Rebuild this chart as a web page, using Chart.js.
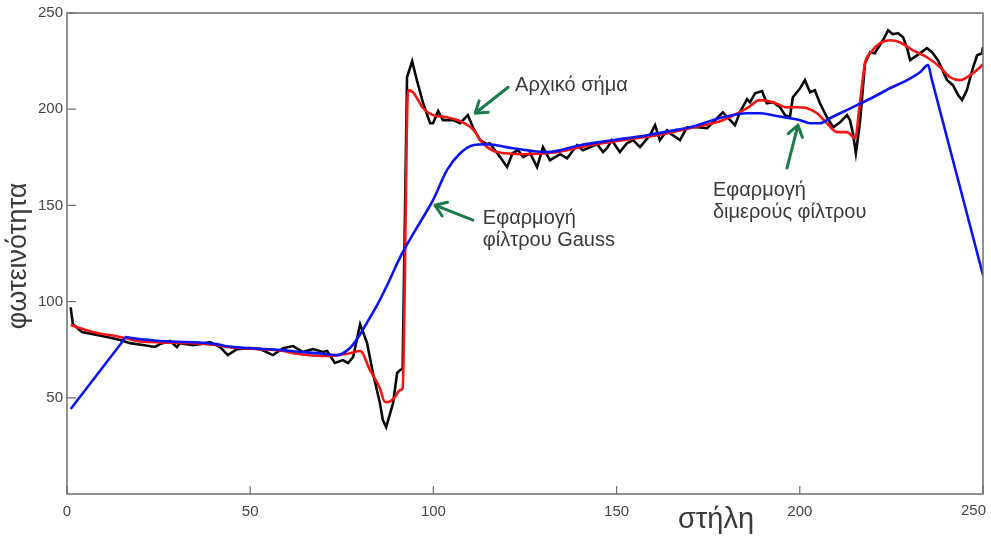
<!DOCTYPE html>
<html>
<head>
<meta charset="utf-8">
<script src="https://cdn.jsdelivr.net/npm/chart.js@4/dist/chart.umd.min.js"></script>
<style>
  html, body { margin: 0; padding: 0; background: #fff; }
  #wrap { width: 991px; height: 537px; position: relative; }
</style>
</head>
<body>
<div id="wrap"><canvas id="c" width="991" height="537"></canvas></div>
<script>
// ---- Data ----
const xTickValues = [0, 50, 100, 150, 200, 250];
const yTickValues = [50, 100, 150, 200, 250];

// Original signal (black)
const blackCols = [1, 1.6, 4.1, 7.1, 10.9, 14.5, 17.2, 20.7, 24, 25.4,
  28.1, 30, 30.8, 34.4, 36.3, 39, 41.8, 43.9, 46.4, 49.9,
  52.7, 56.2, 59, 61.7, 64.4, 67.1, 69.9, 71, 73.1, 75.3,
  76.7, 78.1, 80, 81.9, 83.5, 85.4, 86.2, 87.1, 87.9, 89,
  90.1, 90.9, 91.6, 92.8, 94.2, 95.5, 97.2, 99.1, 99.9, 101.3,
  102.6, 105.3, 107.3, 109.4, 110.8, 112.7, 114.6, 115.4, 116.8, 118.2,
  120.1, 121.6, 123.1, 124.5, 126.4, 128.3, 129.9, 131.8, 134.6, 136.5,
  139.2, 140.8, 141.9, 144.7, 146.3, 147.4, 148.7, 150.9, 152.8, 154.5,
  156.4, 159.1, 160.5, 161.8, 163.8, 164.6, 167.3, 169.2, 171.9, 174.7,
  177.4, 179, 181, 182.3, 183.7, 185.6, 186.4, 187.8, 189.7, 191,
  192.7, 194.6, 196, 197.3, 198.1, 200.1, 201.4, 202.8, 204.1, 205.5,
  207.4, 209.1, 211, 212.9, 213.7, 214.5, 215.3, 216.4, 217.8, 219.2,
  220.5, 221.3, 222.7, 224.1, 225.4, 226.8, 228.2, 229.3, 230.1, 232,
  234.7, 236.1, 237.7, 240.2, 241.8, 243.2, 244.3, 245.6, 247.3, 248.4,
  249.7, 250];
const blackVals = [97, 88.3, 84.2, 83.1, 81.6, 80.0, 78.4, 77.4, 76.4, 77.9,
  79.5, 76.4, 78.4, 77.4, 77.9, 79.0, 76.4, 72.2, 75.3, 75.8,
  75.3, 72.2, 75.8, 76.9, 73.8, 75.3, 73.8, 74.3, 68.1, 69.6,
  68.1, 71.2, 88.3, 78.4, 62.9, 47.3, 38.4, 34.8, 40, 47.3,
  62.9, 64.4, 65, 216.6, 224.9, 215, 203.1, 192.7, 192.7, 199,
  194.3, 194.3, 192.7, 196.9, 190.6, 183.9, 181.8, 182.3, 178.7, 175.1,
  169.9, 177.1, 178.7, 175.1, 177.1, 169.9, 180.3, 173.5, 176.6, 174.5,
  181.3, 178.7, 179.5, 181.8, 177.7, 179.7, 183.9, 177.7, 182.3, 183.9,
  180.3, 186.5, 191.7, 183.9, 189.1, 187.5, 183.9, 190.6, 190.6, 190.1,
  195.3, 198.4, 194.3, 191.7, 198.5, 205.2, 203.6, 208.3, 209.4, 203.1,
  203.6, 201, 196.9, 195.8, 206.2, 210.9, 215.1, 208.8, 209.9, 203.1,
  195.8, 190.6, 193.2, 196.9, 194.3, 187.5, 177.1, 192.7, 223.9, 229.6,
  229.1, 231.7, 235.8, 241, 239, 239.5, 237.4, 231.7, 225.5, 228,
  231.7, 229.6, 225.5, 215.1, 212.5, 207.3, 204.7, 209.9, 221.8, 228,
  229.1, 232.2];

// Bilateral filter (red)
const redCols = [1, 7.1, 14.5, 19.9, 22.7, 25.4, 34.4, 40.9, 43.7, 52.7,
  59, 61.7, 71.8, 77.2, 80, 82.7, 85.4, 86.8, 87.6, 89.5,
  90.9, 91.6, 93.1, 94.4, 97.2, 99.9, 103.7, 107.3, 110.8, 113.5,
  117.4, 124.5, 133.7, 142.7, 151.7, 161, 170, 179, 185.6, 189.1,
  192.7, 196.5, 199.2, 202, 204.7, 207.4, 210.2, 212.9, 215.1, 216.4,
  217.8, 219.2, 221.9, 224.6, 227.3, 230.9, 234.7, 238.3, 241, 243.7,
  246.5, 249.2, 250];
const redVals = [87.8, 84.2, 81.6, 79.3, 79.0, 78.8, 78.4, 77.4, 76.4, 75.3,
  74.3, 73.2, 71.7, 73.2, 74.3, 64.4, 55, 47.8, 47.8, 50.4,
  54, 55, 209.9, 208.8, 200.5, 196.9, 195.8, 193.8, 189.5, 182.3,
  177.7, 176.6, 177.7, 181.3, 183.9, 186.5, 190.1, 194.3, 200.5, 204.7,
  203.6, 201, 201, 200.5, 197.9, 192.7, 188.1, 188.1, 184.9, 203.1,
  223.9, 229.1, 234.3, 235.8, 234.8, 230.6, 227, 221.8, 216.6, 215.1,
  217.7, 221.8, 223.4];

// Gaussian filter (blue)
const blueCols = [1, 15, 16.1, 17.5, 22.7, 25.4, 40.9, 43.7, 52.7, 59,
  61.7, 68.2, 73.7, 76.4, 78, 80, 82, 84.6, 87.5, 90.9,
  93.5, 96.3, 99.9, 103.7, 107.3, 110.8, 114.6, 121.7, 131, 140,
  149, 158.3, 167.3, 170, 179, 185.6, 189.1, 192.7, 197.3, 200.1,
  202.8, 205.5, 208.2, 211, 215.6, 220, 224.6, 229.3, 232.8, 235,
  236, 250];
const blueVals = [44.2, 78.9, 81.6, 81.1, 80, 79.5, 77.9, 76.8, 75.5, 74.8,
  74.2, 73.2, 72.2, 74.5, 77.5, 83, 89.5, 98, 109, 123,
  132, 141, 152.7, 168.3, 177.1, 181.3, 181.8, 179.7, 177.7, 181.3,
  183.9, 186.5, 189.6, 190.6, 195.8, 197.9, 197.9, 196.9, 195.3, 194.3,
  192.7, 192.7, 195.3, 197.9, 202.1, 206.2, 210.9, 215.1, 219.2, 222.9,
  215.6, 113.8];

// Texts
const xTitle = 'στήλη';
const yTitle = 'φωτεινότητα';
const notes = [
  { lines: ['Αρχικό σήμα'], at: [122.3, 212.5], tail: [120.4, 211.4], tip: [111.4, 197.9] },
  { lines: ['Εφαρμογή', 'φίλτρου Gauss'], at: [113.5, 143.4], tail: [110.8, 142.3], tip: [100.4, 150.1] },
  { lines: ['Εφαρμογή', 'διμερούς φίλτρου'], at: [176.3, 157.9], tail: [196.5, 169.4], tip: [199.5, 191.7] }
];

// ---- Chart ----
const FONT = "'Liberation Sans', Arial, sans-serif";
const TICK_FONT = { family: FONT, size: 15 };
const pts = (xs, ys) => xs.map((x, i) => ({ x: x, y: ys[i] }));
const lastX = xTickValues[xTickValues.length - 1];

const decor = {
  id: 'decor',
  afterDatasetsDraw(chart) {
    const { ctx, chartArea: a, scales: { x, y } } = chart;
    ctx.save();
    // frame
    ctx.strokeStyle = '#6e6e6e';
    ctx.lineWidth = 1.5;
    ctx.strokeRect(a.left, a.top, a.right - a.left, a.bottom - a.top);
    // inward ticks
    ctx.beginPath();
    xTickValues.forEach(v => {
      const px = x.getPixelForValue(v);
      ctx.moveTo(px, a.bottom); ctx.lineTo(px, a.bottom - 8);
    });
    yTickValues.forEach(v => {
      const py = y.getPixelForValue(v);
      ctx.moveTo(a.left, py); ctx.lineTo(a.left + 9, py);
    });
    ctx.lineWidth = 1.2;
    ctx.stroke();

    // last x tick label, kept inside the canvas
    ctx.fillStyle = '#444';
    ctx.font = TICK_FONT.size + 'px ' + FONT;
    ctx.textAlign = 'right';
    ctx.textBaseline = 'top';
    ctx.fillText(String(lastX), x.getPixelForValue(lastX) + 3, x.top + 9);

    // annotations
    ctx.fillStyle = '#3a3a3a';
    ctx.font = '20px ' + FONT;
    ctx.textAlign = 'left';
    ctx.textBaseline = 'middle';
    notes.forEach(n => {
      const tx = x.getPixelForValue(n.at[0]);
      const ty = y.getPixelForValue(n.at[1]);
      n.lines.forEach((t, i) => ctx.fillText(t, tx, ty + i * 22));
      const x0 = x.getPixelForValue(n.tail[0]), y0 = y.getPixelForValue(n.tail[1]);
      const x1 = x.getPixelForValue(n.tip[0]), y1 = y.getPixelForValue(n.tip[1]);
      const ang = Math.atan2(y1 - y0, x1 - x0);
      const L = 13, sp = 0.6;
      ctx.strokeStyle = '#1d7a4b';
      ctx.lineWidth = 3;
      ctx.lineCap = 'round';
      ctx.lineJoin = 'round';
      ctx.beginPath();
      ctx.moveTo(x0, y0); ctx.lineTo(x1, y1);
      ctx.moveTo(x1 - L * Math.cos(ang - sp), y1 - L * Math.sin(ang - sp));
      ctx.lineTo(x1, y1);
      ctx.lineTo(x1 - L * Math.cos(ang + sp), y1 - L * Math.sin(ang + sp));
      ctx.stroke();
    });

    // axis titles
    ctx.fillStyle = '#3a3a3a';
    ctx.textAlign = 'center';
    ctx.textBaseline = 'middle';
    ctx.font = '29px ' + FONT;
    ctx.fillText(xTitle, 716, 520);
    ctx.font = '27px ' + FONT;
    ctx.translate(19, 256);
    ctx.rotate(-Math.PI / 2);
    ctx.fillText(yTitle, 0, 0);
    ctx.restore();
  }
};

new Chart(document.getElementById('c'), {
  type: 'line',
  data: {
    datasets: [
      { label: 'Gauss', data: pts(blueCols, blueVals), borderColor: '#0a14f5', borderWidth: 2.6, pointRadius: 0, cubicInterpolationMode: 'monotone', fill: false },
      { label: 'Bilateral', data: pts(redCols, redVals), borderColor: '#f51414', borderWidth: 2.6, pointRadius: 0, cubicInterpolationMode: 'monotone', fill: false },
      { label: 'Original', data: pts(blackCols, blackVals), borderColor: '#0a0a0a', borderWidth: 2.6, pointRadius: 0, tension: 0, fill: false }
    ]
  },
  options: {
    responsive: false,
    animation: false,
    events: [],
    layout: { padding: { left: 0, top: 13, right: 8, bottom: 0 } },
    plugins: { legend: { display: false }, tooltip: { enabled: false }, title: { display: false } },
    scales: {
      x: {
        type: 'linear', min: 0, max: 250,
        afterFit: s => { s.height = 43; s.paddingLeft = 0; s.paddingRight = 0; },
        afterBuildTicks: s => { s.ticks = xTickValues.map(v => ({ value: v })); },
        grid: { display: false, drawTicks: false },
        border: { display: false },
        ticks: { padding: 9, color: '#444', font: TICK_FONT, maxRotation: 0, autoSkip: false,
          callback: v => (v === lastX ? '' : String(v)) }
      },
      y: {
        type: 'linear', min: 0, max: 250,
        afterFit: s => { s.width = 67; s.paddingTop = 0; s.paddingBottom = 0; },
        afterBuildTicks: s => { s.ticks = yTickValues.map(v => ({ value: v })); },
        grid: { display: false, drawTicks: false },
        border: { display: false },
        ticks: { padding: 4, color: '#444', font: TICK_FONT, autoSkip: false }
      }
    }
  },
  plugins: [decor]
});
</script>
</body>
</html>
